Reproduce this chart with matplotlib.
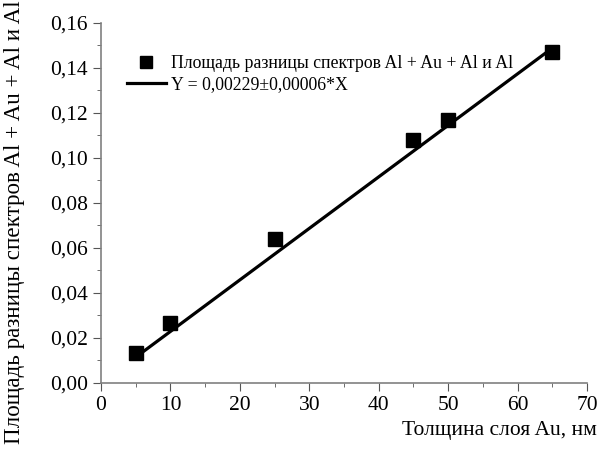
import matplotlib.pyplot as plt
from matplotlib.ticker import MultipleLocator, FuncFormatter
import numpy as np

plt.rcParams['font.family'] = ['Liberation Serif', 'DejaVu Serif']

# Data
thickness = [5, 10, 25, 45, 50, 65]
area = [0.0135, 0.0265, 0.064, 0.108, 0.117, 0.147]
fit_x = [5.5, 65]
slope = 0.00229

fig = plt.figure(figsize=(6.06, 4.5), dpi=100)
ax = fig.add_axes([0.1667, 0.149, 0.802, 0.8])

fx = np.array(fit_x)
ax.plot(fx, slope * fx, color='black', lw=2.3, label='Y = 0,00229±0,00006*X')
ax.plot(thickness, area, 's', color='black', ms=10, ls='none',
        label='Площадь разницы спектров Al + Au + Al и Al')

ax.set_xlim(0, 70)
ax.set_ylim(0, 0.16)
ax.xaxis.set_major_locator(MultipleLocator(10))
ax.xaxis.set_minor_locator(MultipleLocator(5))
ax.yaxis.set_major_locator(MultipleLocator(0.02))
ax.yaxis.set_minor_locator(MultipleLocator(0.01))
ax.yaxis.set_major_formatter(FuncFormatter(lambda v, p: f'{v:.2f}'.replace('.', ',')))

for s in ['top', 'right']:
    ax.spines[s].set_visible(False)
for s in ['left', 'bottom']:
    ax.spines[s].set_color('#808080')
    ax.spines[s].set_linewidth(1.2)
ax.tick_params(which='both', direction='out', color='#555555', labelsize=15.5)
ax.tick_params(which='major', length=6)
ax.tick_params(which='minor', length=3)

fig.text(0.985, 0.022, 'Толщина слоя Au, нм', ha='right', va='bottom', fontsize=15.5)
fig.text(0.006, 0.999, 'Площадь разницы спектров Al + Au + Al и Al', rotation=90,
         ha='left', va='top', fontsize=16.6)

h, l = ax.get_legend_handles_labels()
ax.legend([h[1], h[0]], [l[1], l[0]], loc='upper left', bbox_to_anchor=(0.02, 0.955),
          frameon=False, fontsize=12.8, handlelength=2.2, handletextpad=0.3,
          labelspacing=0.22, markerscale=0.8)

plt.savefig('out.png', dpi=100, facecolor='white')
